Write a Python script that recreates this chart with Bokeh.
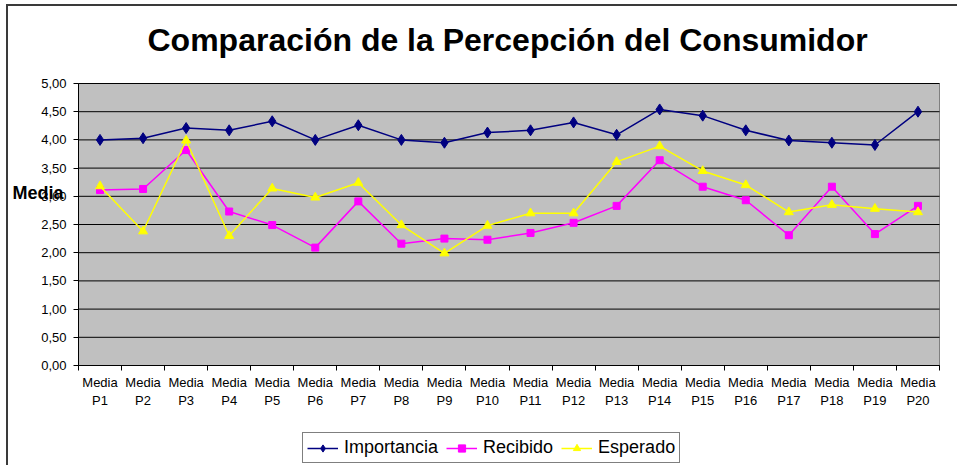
from bokeh.plotting import figure
from bokeh.models import (Range1d, FixedTicker, CustomJSTickFormatter, Legend, LegendItem,
                          ColumnDataSource, Label)
from bokeh.embed import file_html
from bokeh.resources import INLINE

categories = ["Media\nP%d" % i for i in range(1, 21)]
importancia = [4.00, 4.03, 4.21, 4.17, 4.33, 4.00, 4.26, 4.00, 3.95, 4.13,
               4.17, 4.31, 4.09, 4.54, 4.43, 4.17, 3.99, 3.95, 3.91, 4.50]
recibido = [3.11, 3.13, 3.82, 2.73, 2.49, 2.09, 2.91, 2.16, 2.25, 2.23,
            2.35, 2.53, 2.83, 3.64, 3.17, 2.93, 2.31, 3.17, 2.33, 2.83]
esperado = [3.18, 2.38, 3.99, 2.30, 3.14, 2.98, 3.24, 2.49, 1.99, 2.48,
            2.70, 2.70, 3.61, 3.89, 3.45, 3.20, 2.72, 2.85, 2.78, 2.72]
y_ticks = [0.0, 0.5, 1.0, 1.5, 2.0, 2.5, 3.0, 3.5, 4.0, 4.5, 5.0]
y_title = "Media"

n = len(categories)
xs = [i + 0.5 for i in range(n)]
y_min, y_max = y_ticks[0], y_ticks[-1]
src = ColumnDataSource(dict(x=xs, imp=importancia, rec=recibido, esp=esperado))

FONT = "Liberation Sans"

# page geometry (pixels): plot area inside a 957x465 canvas
W, H = 957, 465
PA_LEFT, PA_RIGHT, PA_TOP, PA_BOTTOM = 78, 18, 83, 100
TOP_PAD = 13
x_unit = (W - PA_LEFT - PA_RIGHT) / n
y_unit = (H - PA_TOP - PA_BOTTOM) / (y_max - y_min)

p = figure(width=W, height=H, output_backend="svg", toolbar_location=None,
           x_range=Range1d(-PA_LEFT / x_unit, n + PA_RIGHT / x_unit),
           y_range=Range1d(y_min - PA_BOTTOM / y_unit, y_max + TOP_PAD / y_unit),
           min_border_left=0, min_border_right=0, min_border_top=PA_TOP - TOP_PAD,
           min_border_bottom=0)
p.title.text = "Comparación de la Percepción del Consumidor"
p.title.text_font = FONT
p.title.text_font_size = "32px"
p.title.text_font_style = "bold"
p.title.text_color = "black"
p.title.align = "left"
p.title.offset = 147
p.title.standoff = 25

p.background_fill_color = None
p.border_fill_color = None
p.outline_line_color = None
p.styles = {
    "background": ("linear-gradient(#3a3a3a,#3a3a3a) 6px 4px / 2px 100% no-repeat, "
                   "linear-gradient(#3a3a3a,#3a3a3a) 6px 4px / 100% 2px no-repeat, white"),
}
p.xgrid.visible = False
p.ygrid.visible = False

# plot area background and horizontal grid lines
p.quad(left=0, right=n, bottom=y_min, top=y_max, fill_color="#C0C0C0",
       line_color="#808080", line_width=1)
p.segment(x0=[0] * len(y_ticks), x1=[n] * len(y_ticks), y0=y_ticks, y1=y_ticks,
          line_color="black", line_width=1)

# y axis, drawn at x = 0
p.yaxis.fixed_location = 0
p.yaxis.bounds = (y_min, y_max)
p.yaxis.ticker = FixedTicker(ticks=y_ticks)
p.yaxis.formatter = CustomJSTickFormatter(code="return tick.toFixed(2).replace('.', ',');")
p.yaxis.major_label_text_font = FONT
p.yaxis.major_label_text_font_size = "13px"
p.yaxis.major_label_text_color = "black"
p.yaxis.major_tick_out = 5
p.yaxis.major_tick_in = 0
p.yaxis.minor_tick_line_color = None
p.yaxis.axis_line_color = "black"
p.yaxis.major_tick_line_color = "black"
p.yaxis.major_label_standoff = 7

# x axis, drawn at y = 0
p.xaxis.fixed_location = y_min
p.xaxis.bounds = (0, n)
p.xaxis.ticker = FixedTicker(ticks=xs, minor_ticks=list(range(n + 1)))
p.xaxis.major_label_overrides = {x: c for x, c in zip(xs, categories)}
p.xaxis.major_label_text_font = FONT
p.xaxis.major_label_text_font_size = "13px"
p.xaxis.major_label_text_color = "black"
p.xaxis.major_tick_out = 0
p.xaxis.major_tick_in = 0
p.xaxis.minor_tick_out = 5
p.xaxis.minor_tick_in = 0
p.xaxis.minor_tick_line_color = "black"
p.xaxis.axis_line_color = "black"
p.xaxis.major_label_standoff = 4

r1l = p.line("x", "imp", source=src, line_color="#000080", line_width=1.5)
r1m = p.scatter("x", "imp", source=src, marker="diamond", size=11,
                fill_color="#000080", line_color="#000080")
r2l = p.line("x", "rec", source=src, line_color="#FF00FF", line_width=1.5)
r2m = p.scatter("x", "rec", source=src, marker="square", size=7,
                fill_color="#FF00FF", line_color="#FF00FF")
r3l = p.line("x", "esp", source=src, line_color="#FFFF00", line_width=1.5)
r3m = p.scatter("x", "esp", source=src, marker="triangle", size=9,
                fill_color="#FFFF00", line_color="#FFFF00")

# y axis title, left of the tick labels
p.add_layout(Label(x=-(PA_LEFT - 12) / x_unit, y=3.05, text=y_title,
                   text_font=FONT, text_font_size="18px", text_font_style="bold",
                   text_baseline="middle", text_align="left", text_color="black"))

legend = Legend(items=[
    LegendItem(label="Importancia", renderers=[r1l, r1m]),
    LegendItem(label="Recibido", renderers=[r2l, r2m]),
    LegendItem(label="Esperado", renderers=[r3l, r3m]),
], orientation="horizontal", location=(302, 2))
legend.label_text_font = FONT
legend.label_text_font_size = "18px"
legend.label_text_color = "black"
legend.label_height = 18
legend.glyph_width = 31
legend.glyph_height = 18
legend.spacing = 8
legend.padding = 4
legend.margin = 0
legend.label_standoff = 6
legend.border_line_color = "black"
legend.border_line_width = 1
legend.background_fill_color = "white"
legend.background_fill_alpha = 1
p.add_layout(legend, "center")

open("out.html", "w").write(file_html(p, INLINE))
